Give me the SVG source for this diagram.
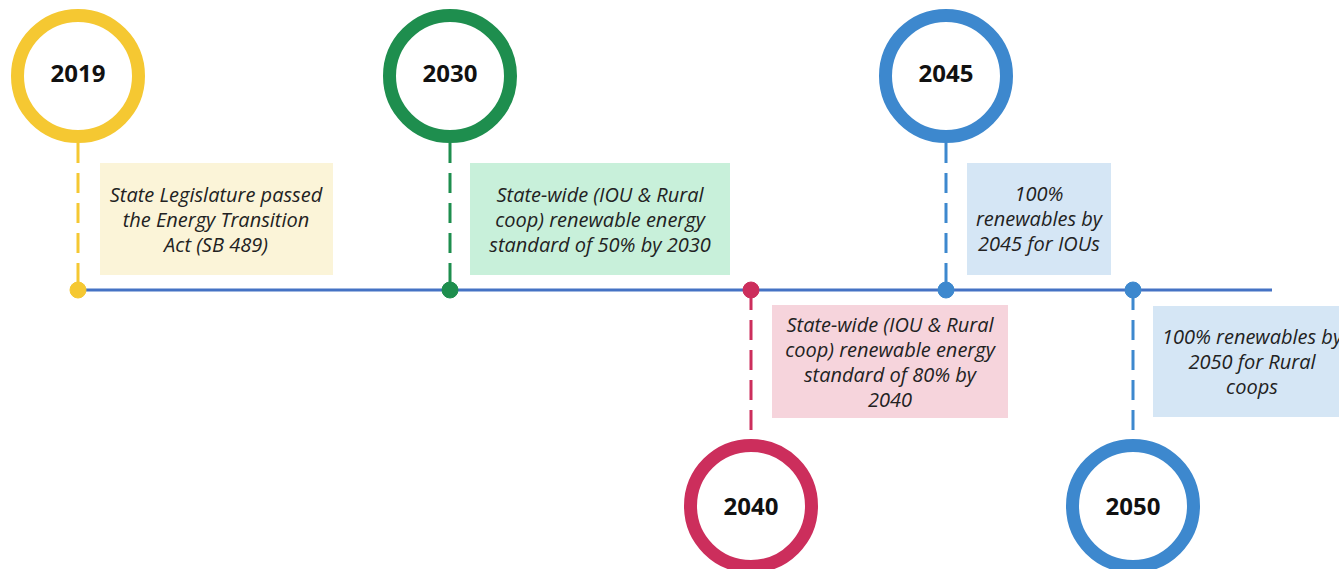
<svg xmlns="http://www.w3.org/2000/svg" width="1339" height="569" viewBox="0 0 1339 569">
<style>
.ring{fill:#fff;stroke-width:13}
.year{font-family:"Open Sans","Noto Sans",sans-serif;font-weight:bold;font-size:24px;fill:#111;text-anchor:middle;dominant-baseline:central}
.lbl{font-family:"Open Sans","Noto Sans",sans-serif;font-style:italic;font-size:20px;fill:#222;text-anchor:middle}
.dash{stroke-width:3;stroke-dasharray:20 10;fill:none}
.y{stroke:#F5C832;fill:#F5C832}
.g{stroke:#1E8E4E;fill:#1E8E4E}
.r{stroke:#CC2E5C;fill:#CC2E5C}
.b{stroke:#3D88CE;fill:#3D88CE}
</style>
<rect width="1339" height="569" fill="#fff"/>
<g id="connectors">
<line x1="78" y1="290" x2="1272" y2="290" stroke="#4472C4" stroke-width="3"/>
<line class="dash y" x1="78" y1="143" x2="78" y2="290"/>
<line class="dash g" x1="450" y1="143" x2="450" y2="290"/>
<line class="dash r" x1="751" y1="290" x2="751" y2="440"/>
<line class="dash b" x1="946" y1="143" x2="946" y2="290"/>
<line class="dash b" x1="1133" y1="290" x2="1133" y2="440"/>
</g>
<g id="n2019">
<circle class="ring" cx="78" cy="76" r="60.5" stroke="#F5C832"/>
<text class="year" x="78" y="72">2019</text>
<circle class="y" cx="78" cy="290" r="8" stroke="none"/>
<rect x="100" y="163" width="233" height="112" fill="#FBF4D8"/>
<text class="lbl" x="216" y="202">State Legislature passed</text>
<text class="lbl" x="216" y="227">the Energy Transition</text>
<text class="lbl" x="216" y="252">Act (SB 489)</text>
</g>
<g id="n2030">
<circle class="ring" cx="450" cy="76" r="60.5" stroke="#1E8E4E"/>
<text class="year" x="450" y="72">2030</text>
<circle class="g" cx="450" cy="290" r="8" stroke="none"/>
<rect x="470" y="163" width="260" height="112" fill="#C8F0DA"/>
<text class="lbl" x="600" y="202">State-wide (IOU &amp; Rural</text>
<text class="lbl" x="600" y="227">coop) renewable energy</text>
<text class="lbl" x="600" y="252">standard of 50% by 2030</text>
</g>
<g id="n2040">
<circle class="ring" cx="751" cy="506" r="60.5" stroke="#CC2E5C"/>
<text class="year" x="751" y="505">2040</text>
<circle class="r" cx="751" cy="290" r="8" stroke="none"/>
<rect x="772" y="305" width="236" height="113" fill="#F6D4DC"/>
<text class="lbl" x="890" y="332">State-wide (IOU &amp; Rural</text>
<text class="lbl" x="890" y="357">coop) renewable energy</text>
<text class="lbl" x="890" y="382">standard of 80% by</text>
<text class="lbl" x="890" y="407">2040</text>
</g>
<g id="n2045">
<circle class="ring" cx="946" cy="76" r="60.5" stroke="#3D88CE"/>
<text class="year" x="946" y="72">2045</text>
<circle class="b" cx="946" cy="290" r="8" stroke="none"/>
<rect x="967" y="163" width="144" height="112" fill="#D5E6F5"/>
<text class="lbl" x="1039" y="201">100%</text>
<text class="lbl" x="1039" y="226">renewables by</text>
<text class="lbl" x="1039" y="251">2045 for IOUs</text>
</g>
<g id="n2050">
<circle class="ring" cx="1133" cy="506" r="60.5" stroke="#3D88CE"/>
<text class="year" x="1133" y="505">2050</text>
<circle class="b" cx="1133" cy="290" r="8" stroke="none"/>
<rect x="1153" y="306" width="200" height="111" fill="#D5E6F5"/>
<text class="lbl" x="1252" y="344">100% renewables by</text>
<text class="lbl" x="1252" y="369">2050 for Rural</text>
<text class="lbl" x="1252" y="394">coops</text>
</g>
</svg>
